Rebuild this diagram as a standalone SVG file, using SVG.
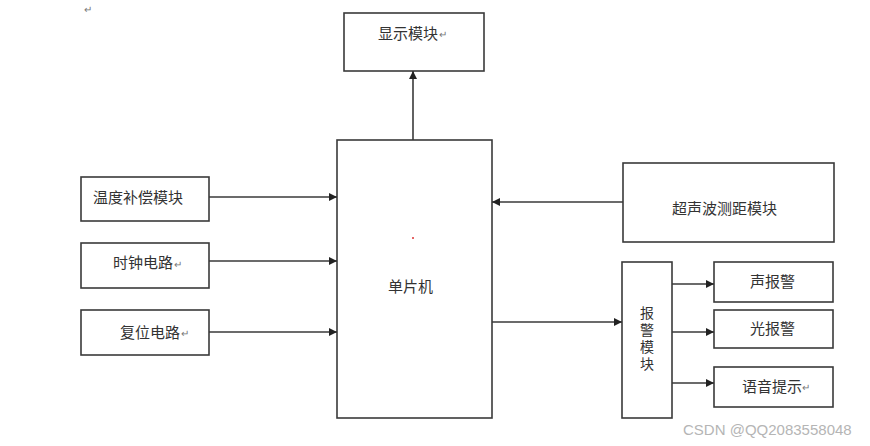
<svg xmlns="http://www.w3.org/2000/svg" width="870" height="446" viewBox="0 0 870 446">
<style>
.box{fill:#fff;stroke:#3a3a3a;stroke-width:1.6}
.t{font-family:"Noto Sans CJK SC","Liberation Sans",sans-serif;font-size:15px;fill:#333}
.v{font-family:"Noto Sans CJK SC","Liberation Sans",sans-serif;font-size:14px;fill:#333;writing-mode:vertical-rl;letter-spacing:3px}
.r{font-family:"Liberation Sans",sans-serif;font-size:10px;fill:#777}
.c{stroke:#3a3a3a;stroke-width:1.6;fill:none;marker-end:url(#ah)}
.wm{font-family:"Liberation Sans","Noto Sans",sans-serif;font-size:15px;fill:#b5b5b5}
</style>
<defs>
<marker id="ah" viewBox="0 0 10 10" refX="10" refY="5" markerWidth="8" markerHeight="8" markerUnits="userSpaceOnUse" orient="auto">
<path d="M0,0 L10,5 L0,10 z" fill="#222"/>
</marker>
</defs>
<rect width="870" height="446" fill="#fff"/>
<text class="r" x="84" y="13">↵</text>
<g id="display"><rect class="box" x="344" y="13" width="140" height="58"/><text class="t" x="378" y="39">显示模块</text><text class="r" x="439" y="38">↵</text></g>
<g id="mcu"><rect class="box" x="337" y="140" width="155" height="278"/><circle cx="413" cy="238" r="1" fill="#d33"/><text class="t" x="388" y="292">单片机</text></g>
<g id="temp"><rect class="box" x="81" y="177" width="128" height="44"/><text class="t" x="93" y="203">温度补偿模块</text></g>
<g id="clock"><rect class="box" x="81" y="243" width="128" height="45"/><text class="t" x="113" y="268">时钟电路</text><text class="r" x="174" y="268">↵</text></g>
<g id="reset"><rect class="box" x="81" y="310" width="128" height="45"/><text class="t" x="120" y="338">复位电路</text><text class="r" x="181" y="337">↵</text></g>
<g id="ultra"><rect class="box" x="623" y="163" width="211" height="79"/><text class="t" x="672" y="214">超声波测距模块</text></g>
<g id="alarm"><rect class="box" x="622" y="262" width="50" height="156"/>
<text class="v" x="647" y="306">报警模块</text></g>
<g id="sound"><rect class="box" x="714" y="262" width="119" height="40"/><text class="t" x="750" y="287">声报警</text></g>
<g id="light"><rect class="box" x="714" y="310" width="119" height="38"/><text class="t" x="750" y="334">光报警</text></g>
<g id="voice"><rect class="box" x="714" y="367" width="119" height="40"/><text class="t" x="742" y="392">语音提示</text><text class="r" x="802" y="391">↵</text></g>
<g id="connectors">
<line class="c" x1="413" y1="140" x2="413" y2="71"/>
<line class="c" x1="209" y1="197" x2="337" y2="197"/>
<line class="c" x1="209" y1="261" x2="337" y2="261"/>
<line class="c" x1="209" y1="332" x2="337" y2="332"/>
<line class="c" x1="623" y1="202" x2="492" y2="202"/>
<line class="c" x1="492" y1="322" x2="622" y2="322"/>
<line class="c" x1="672" y1="284" x2="714" y2="284"/>
<line class="c" x1="672" y1="332" x2="714" y2="332"/>
<line class="c" x1="672" y1="383" x2="714" y2="383"/>
</g>
<text class="wm" x="683" y="435">CSDN @QQ2083558048</text>
</svg>
